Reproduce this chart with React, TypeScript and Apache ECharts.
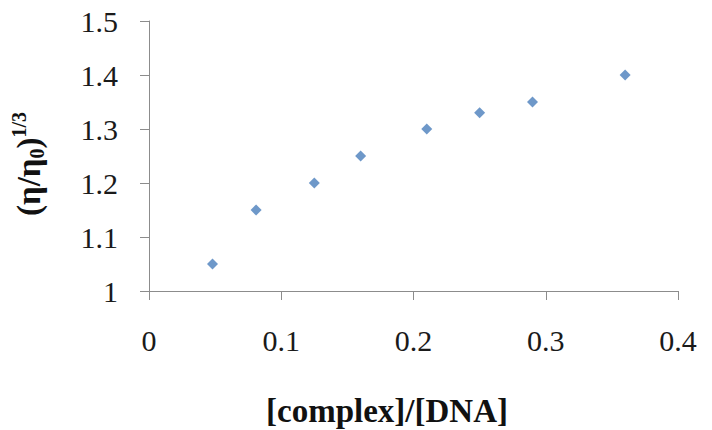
import React, { useEffect, useRef } from "react";
import * as echarts from "echarts";

const ratioValues = [0.048, 0.081, 0.125, 0.16, 0.21, 0.25, 0.29, 0.36];
const viscosityValues = [1.05, 1.15, 1.2, 1.25, 1.3, 1.33, 1.35, 1.4];
const xTicks = [0, 0.1, 0.2, 0.3, 0.4];
const yTicks = [1, 1.1, 1.2, 1.3, 1.4, 1.5];

const FONT = "'Liberation Serif', 'Times New Roman', serif";

export default function App() {
  const ref = useRef<HTMLDivElement>(null);
  useEffect(() => {
    if (!ref.current) return;
    const chart = echarts.init(ref.current, null, { renderer: "svg" });
    chart.setOption({
      animation: false,
      backgroundColor: "#ffffff",
      grid: { left: 149, right: 34, top: 21, bottom: 139, containLabel: false, outerBoundsMode: "none" },
      xAxis: {
        type: "value",
        min: xTicks[0],
        max: xTicks[xTicks.length - 1],
        interval: 0.1,
        splitLine: { show: false },
        axisLine: { show: true, lineStyle: { color: "#8c8c8c", width: 1 } },
        axisTick: { show: true, length: 9, lineStyle: { color: "#8c8c8c" } },
        axisLabel: {
          margin: 34,
          fontFamily: FONT,
          fontSize: 30,
          color: "#1a1a1a",
          formatter: (v: number) => String(Math.round(v * 10) / 10),
        },
        name: "[complex]/[DNA]",
        nameLocation: "middle",
        nameGap: 103,
        nameTextStyle: {
          fontFamily: FONT,
          fontSize: 33,
          fontWeight: "bold",
          color: "#111",
          padding: [0, 53, 0, 0],
        },
      },
      yAxis: {
        type: "value",
        min: yTicks[0],
        max: yTicks[yTicks.length - 1],
        interval: 0.1,
        splitLine: { show: false },
        axisLine: { show: true, lineStyle: { color: "#8c8c8c", width: 1 } },
        axisTick: { show: true, length: 9, lineStyle: { color: "#8c8c8c" } },
        axisLabel: {
          margin: 31,
          fontFamily: FONT,
          fontSize: 30,
          color: "#1a1a1a",
          formatter: (v: number) => String(Math.round(v * 10) / 10),
        },
        name: "{b|(η/η}{sub|0}{b|)}{sup|1/3}",
        nameLocation: "middle",
        nameRotate: 90,
        nameGap: 97,
        nameTextStyle: {
          fontFamily: FONT,
          fontSize: 33,
          fontWeight: "bold",
          color: "#111",
          padding: [0, 16, 0, 0],
          rich: {
            b: { fontFamily: FONT, fontSize: 33, fontWeight: "bold", color: "#111", lineHeight: 46, verticalAlign: "middle" },
            sub: { fontFamily: FONT, fontSize: 20, fontWeight: "bold", color: "#111", lineHeight: 46, verticalAlign: "bottom", padding: [0, 0, 5, 0] },
            sup: { fontFamily: FONT, fontSize: 20, fontWeight: "bold", color: "#111", lineHeight: 46, verticalAlign: "top", padding: [3, 0, 0, 0] },
          },
        },
      },
      series: [
        {
          type: "scatter",
          symbol: "diamond",
          symbolSize: 11,
          itemStyle: { color: "#4a7ebb" },
          data: ratioValues.map((x, i) => [x, viscosityValues[i]]),
        },
      ],
    });
    return () => chart.dispose();
  }, []);
  return (
    <div
      ref={ref}
      style={{ position: "fixed", left: 0, top: 0, width: 712, height: 430 }}
    />
  );
}
